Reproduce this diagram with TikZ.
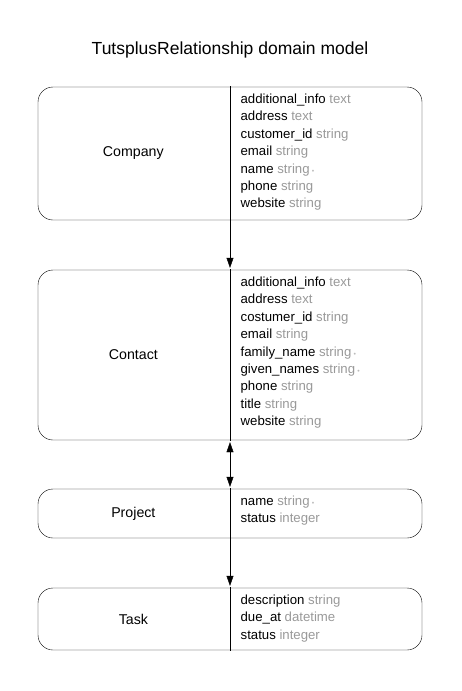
\documentclass[tikz,border=0pt]{standalone}
\usepackage{fontspec}
\setmainfont{Liberation Sans}
\usetikzlibrary{arrows.meta, positioning}
\definecolor{typegray}{HTML}{999999}
\definecolor{reqgray}{HTML}{BBBBBB}
\newcommand{\fld}[2]{#1 {\color{typegray}#2}}
\newcommand{\req}{\,{\color{reqgray}\scriptsize\textbullet}}

\begin{document}
\begin{tikzpicture}[x=1pt,y=1pt]
	\tikzset {>={Triangle[width=8pt,length=12pt]}, line width=1.3pt,
		entity/.style={draw, rounded corners=15pt, minimum width=384pt, inner sep=0pt},
		entityname/.style={font=\fontsize{14.2}{16}\selectfont},
		fields/.style={anchor=north west, align=left, inner sep=0pt, font=\fontsize{13.2}{17.4}\selectfont} }
	\useasboundingbox (0,0) rectangle (461,-691);
	\node[font=\fontsize{17.5}{21}\selectfont] (title) at (230,-50) {TutsplusRelationship domain model};
	
	\node[entity, minimum height=133pt] (company) at (230,-153.5) {};
	\node[entity, minimum height=170pt] (contact) at (230,-355) {};
	\node[entity, minimum height=49pt] (project) at (230,-513.5) {};
	\node[entity, minimum height=62pt] (task) at (230,-619) {};
	
	\node[entityname] (companyname) at ([xshift=96pt]company.west) {Company};
	\node[entityname] (contactname) at ([xshift=96pt]contact.west) {Contact};
	\node[entityname] (projectname) at ([xshift=96pt]project.west) {Project};
	\node[entityname] (taskname) at ([xshift=96pt]task.west) {Task};
	
	\node[fields] (companyfields) at ([xshift=10pt,yshift=-7pt]company.north) {\fld{additional\_info}{text}\\ \fld{address}{text}\\ \fld{customer\_id}{string}\\ \fld{email}{string}\\ \fld{name}{string}\req\\ \fld{phone}{string}\\ \fld{website}{string}};
	\node[fields] (contactfields) at ([xshift=10pt,yshift=-7pt]contact.north) {\fld{additional\_info}{text}\\ \fld{address}{text}\\ \fld{costumer\_id}{string}\\ \fld{email}{string}\\ \fld{family\_name}{string}\req\\ \fld{given\_names}{string}\req\\ \fld{phone}{string}\\ \fld{title}{string}\\ \fld{website}{string}};
	\node[fields] (projectfields) at ([xshift=10pt,yshift=-7pt]project.north) {\fld{name}{string}\req\\ \fld{status}{integer}};
	\node[fields] (taskfields) at ([xshift=10pt,yshift=-7pt]task.north) {\fld{description}{string}\\ \fld{due\_at}{datetime}\\ \fld{status}{integer}};
	
	% dividers
	\draw (company.north) -- (company.south);
	\draw (contact.north) -- (contact.south);
	\draw (project.north) -- (project.south);
	\draw (task.north) -- (task.south);
	
	% relations
	\draw[->] (company.south) -- (contact.north);
	\draw[<->] (contact.south) -- (project.north);
	\draw[->] (project.south) -- (task.north);
\end{tikzpicture}
\end{document}
